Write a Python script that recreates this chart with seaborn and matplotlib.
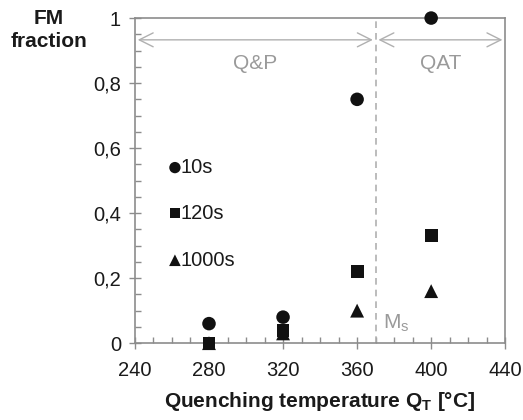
import numpy as np
import pandas as pd
import matplotlib
matplotlib.use("Agg")
import matplotlib.pyplot as plt
import seaborn as sns
from matplotlib.ticker import MultipleLocator, FuncFormatter

temps = [280, 320, 360, 400]
fm_10s = [0.06, 0.08, 0.75, 1.0]
fm_120s = [0.0, 0.04, 0.22, 0.33]
fm_1000s = [0.0, 0.03, 0.10, 0.16]
series = ["10s", "120s", "1000s"]

sns.set_theme(style="white")
plt.rcParams['font.family'] = ['Liberation Sans', 'DejaVu Sans']

rows = []
for name, vals in zip(series, [fm_10s, fm_120s, fm_1000s]):
    for t, v in zip(temps, vals):
        rows.append({"T": t, "FM": v, "time": name})
df = pd.DataFrame(rows)

fig = plt.figure(figsize=(5.23, 4.2), dpi=100)
ax = fig.add_axes([0.258, 0.183, 0.708, 0.774])

markers = {"10s": "o", "120s": "s", "1000s": "^"}
sizes = {"10s": 95, "120s": 85, "1000s": 100}
for name in ["1000s", "120s", "10s"]:
    sub = df[df["time"] == name]
    sns.scatterplot(data=sub, x="T", y="FM", marker=markers[name], s=sizes[name],
                    color="#111111", edgecolor="none", ax=ax, legend=False, zorder=5,
                    clip_on=False)

ax.set_xlim(240, 440)
ax.set_ylim(0, 1)
ax.xaxis.set_major_locator(MultipleLocator(40))
ax.xaxis.set_minor_locator(MultipleLocator(10))
ax.yaxis.set_major_locator(MultipleLocator(0.2))
ax.yaxis.set_minor_locator(MultipleLocator(0.05))
ax.yaxis.set_major_formatter(FuncFormatter(lambda v, p: ("%g" % round(v, 2)).replace(".", ",")))

gray = "#8c8c8c"
for s in ax.spines.values():
    s.set_color(gray)
    s.set_linewidth(1.2)
ax.tick_params(axis="both", which="major", direction="inout", length=8, width=1.0,
               color=gray, labelsize=14.5, labelcolor="#1a1a1a",
               bottom=True, left=True)
ax.tick_params(axis="x", which="major", pad=9)
ax.tick_params(axis="y", which="major", pad=6)
ax.tick_params(axis="both", which="minor", direction="in", length=4, width=1.0,
               color=gray, bottom=True, left=True)

ax.set_xlabel("Quenching temperature Q$_\\mathregular{T}$ [°C]", fontsize=15,
              fontweight="bold", labelpad=7, color="#1a1a1a")
ax.set_ylabel("")
fig.text(0.094, 0.978, "FM\nfraction", ha="center", va="top", fontsize=15,
         fontweight="bold", color="#1a1a1a", linespacing=1.25)

lgray = "#b0b0b0"
ax.axvline(370, color=lgray, ls=(0, (4, 3)), lw=1.2, zorder=1)
ax.annotate("", xy=(240, 0.933), xytext=(370, 0.933),
            arrowprops=dict(arrowstyle="<->", color=lgray, lw=1.0, mutation_scale=25))
ax.annotate("", xy=(370, 0.933), xytext=(440, 0.933),
            arrowprops=dict(arrowstyle="<->", color=lgray, lw=1.0, mutation_scale=25))
ax.text(305, 0.86, "Q&P", ha="center", va="center", fontsize=15, color="#9a9a9a")
ax.text(405, 0.86, "QAT", ha="center", va="center", fontsize=15, color="#9a9a9a")
ax.text(374, 0.06, "M$_\\mathregular{s}$", ha="left", va="center", fontsize=15, color="#9a9a9a")

leg_y = [0.54, 0.40, 0.255]
for name, yy in zip(series, leg_y):
    ax.scatter([261.6], [yy], marker=markers[name], s=sizes[name] * 0.7, color="#111111",
               edgecolor="none", zorder=5)
    ax.text(264.5, yy, name, ha="left", va="center", fontsize=14.5, color="#1a1a1a")

fig.savefig("out.png", dpi=100)
